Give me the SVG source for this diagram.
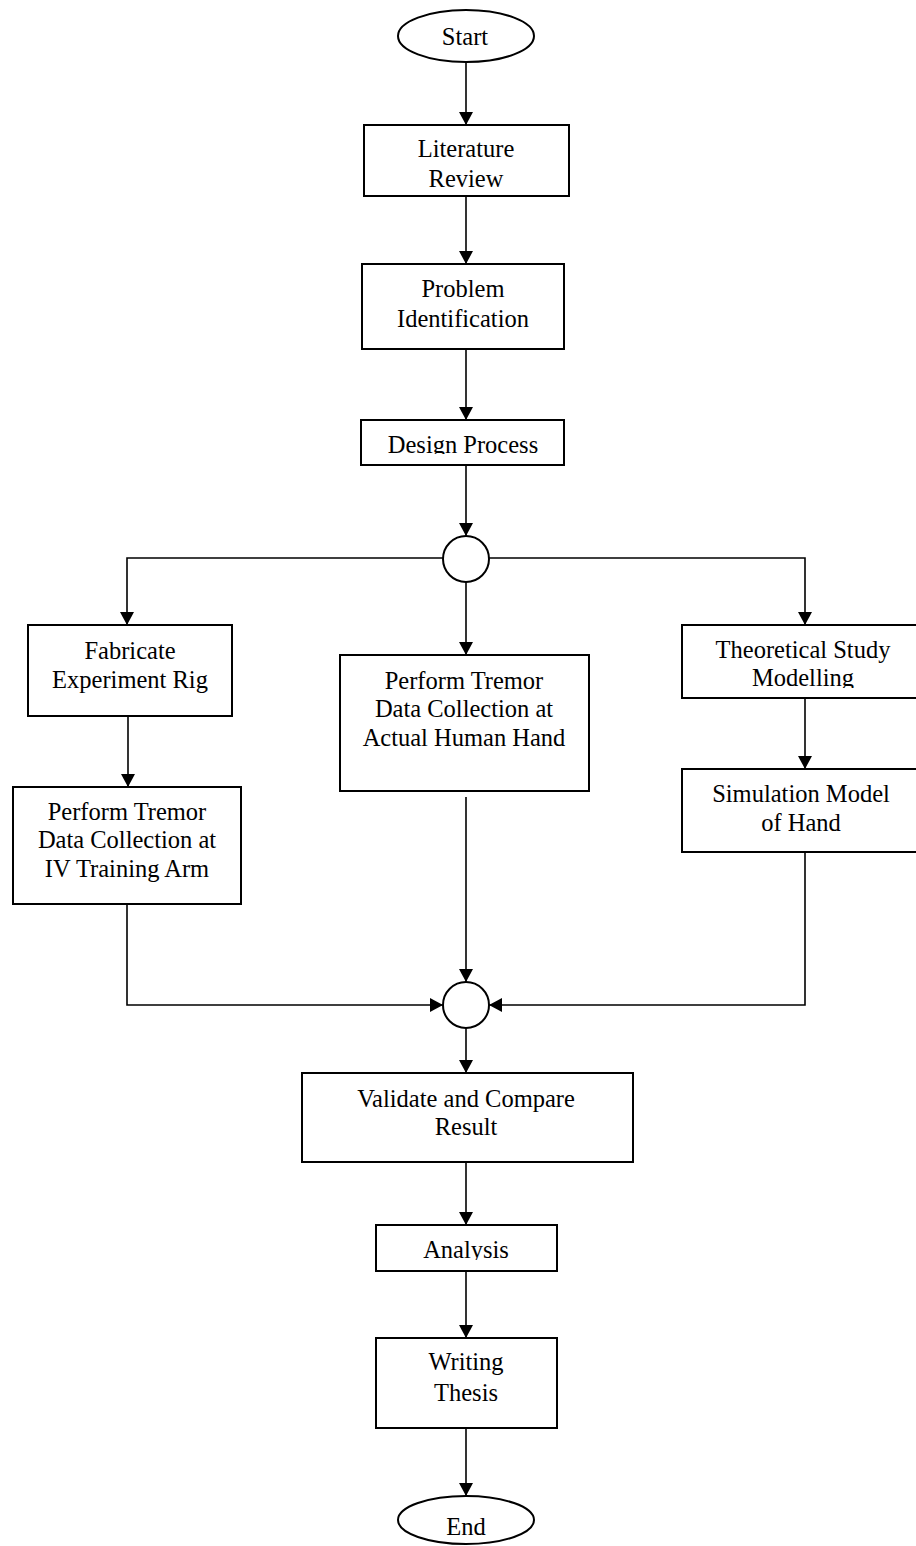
<svg xmlns="http://www.w3.org/2000/svg" width="916" height="1546" viewBox="0 0 916 1546">
<style>
.box{fill:#fff;stroke:#000;stroke-width:2}
.c{fill:none;stroke:#000;stroke-width:1.6}
text{font-family:"Liberation Serif","Times New Roman",serif;font-size:24.5px;fill:#000;text-anchor:middle}
</style>
<defs>
<marker id="ah" markerUnits="userSpaceOnUse" viewBox="0 0 13 14" markerWidth="13" markerHeight="14" refX="13" refY="7" orient="auto">
<path d="M0,0 L13,7 L0,14 Z" fill="#000"/>
</marker>
<clipPath id="clipDesign"><rect x="361" y="420" width="203" height="34"/></clipPath>
<clipPath id="clipTheo"><rect x="682" y="625" width="246" height="63"/></clipPath>
<clipPath id="clipAna"><rect x="376" y="1225" width="181" height="35"/></clipPath>
</defs>
<rect width="916" height="1546" fill="#fff"/>
<g id="connectors">
<line class="c" x1="466" y1="62" x2="466" y2="125" marker-end="url(#ah)"/>
<line class="c" x1="466" y1="197" x2="466" y2="264" marker-end="url(#ah)"/>
<line class="c" x1="466" y1="350" x2="466" y2="420" marker-end="url(#ah)"/>
<line class="c" x1="466" y1="466" x2="466" y2="536" marker-end="url(#ah)"/>
<path class="c" d="M443,558 H127 V625" marker-end="url(#ah)"/>
<line class="c" x1="466" y1="582" x2="466" y2="655" marker-end="url(#ah)"/>
<path class="c" d="M489,558 H805 V625" marker-end="url(#ah)"/>
<line class="c" x1="128" y1="717" x2="128" y2="787" marker-end="url(#ah)"/>
<line class="c" x1="805" y1="699" x2="805" y2="769" marker-end="url(#ah)"/>
<path class="c" d="M127,905 V1005 H443" marker-end="url(#ah)"/>
<line class="c" x1="466" y1="797" x2="466" y2="982" marker-end="url(#ah)"/>
<path class="c" d="M805,853 V1005 H489" marker-end="url(#ah)"/>
<line class="c" x1="466" y1="1028" x2="466" y2="1073" marker-end="url(#ah)"/>
<line class="c" x1="466" y1="1163" x2="466" y2="1225" marker-end="url(#ah)"/>
<line class="c" x1="466" y1="1272" x2="466" y2="1338" marker-end="url(#ah)"/>
<line class="c" x1="466" y1="1429" x2="466" y2="1496" marker-end="url(#ah)"/>
</g>
<g id="start">
<ellipse class="box" cx="466" cy="36" rx="68" ry="26"/>
<text x="465" y="45">Start</text>
</g>
<g id="literature">
<rect class="box" x="364" y="125" width="205" height="71"/>
<text x="466" y="157">Literature</text>
<text x="466" y="187">Review</text>
</g>
<g id="problem">
<rect class="box" x="362" y="264" width="202" height="85"/>
<text x="463" y="297">Problem</text>
<text x="463" y="327">Identification</text>
</g>
<g id="design">
<rect class="box" x="361" y="420" width="203" height="45"/>
<text x="463" y="453" clip-path="url(#clipDesign)">Design Process</text>
</g>
<g id="split">
<circle class="box" cx="466" cy="559" r="23"/>
</g>
<g id="fabricate">
<rect class="box" x="28" y="625" width="204" height="91"/>
<text x="130" y="659">Fabricate</text>
<text x="130" y="688">Experiment Rig</text>
</g>
<g id="actual-hand">
<rect class="box" x="340" y="655" width="249" height="136"/>
<text x="464" y="689">Perform Tremor</text>
<text x="464" y="717">Data Collection at</text>
<text x="464" y="746">Actual Human Hand</text>
</g>
<g id="theoretical">
<rect class="box" x="682" y="625" width="246" height="73"/>
<g clip-path="url(#clipTheo)">
<text x="803" y="658">Theoretical Study</text>
<text x="803" y="686">Modelling</text>
</g>
</g>
<g id="iv-arm">
<rect class="box" x="13" y="787" width="228" height="117"/>
<text x="127" y="820">Perform Tremor</text>
<text x="127" y="848">Data Collection at</text>
<text x="127" y="877">IV Training Arm</text>
</g>
<g id="simulation">
<rect class="box" x="682" y="769" width="246" height="83"/>
<text x="801" y="802">Simulation Model</text>
<text x="801" y="831">of Hand</text>
</g>
<g id="merge">
<circle class="box" cx="466" cy="1005" r="23"/>
</g>
<g id="validate">
<rect class="box" x="302" y="1073" width="331" height="89"/>
<text x="466" y="1107">Validate and Compare</text>
<text x="466" y="1135">Result</text>
</g>
<g id="analysis">
<rect class="box" x="376" y="1225" width="181" height="46"/>
<text x="466" y="1258" clip-path="url(#clipAna)">Analysis</text>
</g>
<g id="writing">
<rect class="box" x="376" y="1338" width="181" height="90"/>
<text x="466" y="1370">Writing</text>
<text x="466" y="1401">Thesis</text>
</g>
<g id="end">
<ellipse class="box" cx="466" cy="1520" rx="68" ry="24"/>
<text x="466" y="1535">End</text>
</g>
</svg>
